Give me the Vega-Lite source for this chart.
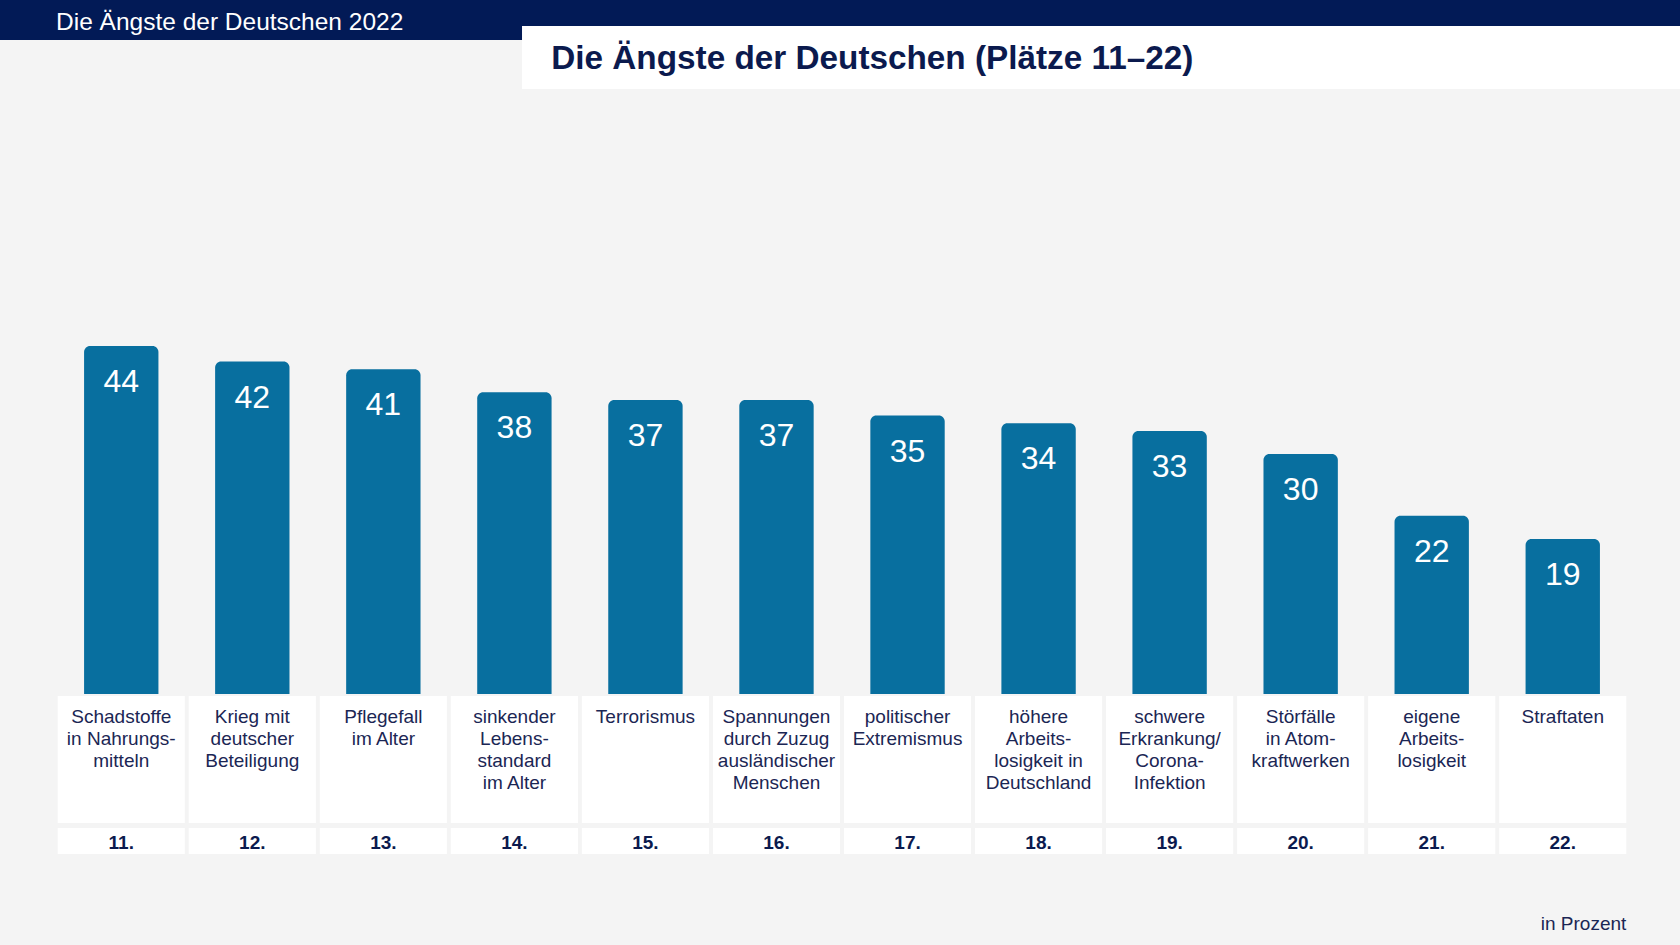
{
  "$schema": "https://vega.github.io/schema/vega-lite/v6.json",
  "width": 1680,
  "height": 945,
  "autosize": {"type": "fit", "contains": "padding"},
  "padding": {"top": 9, "left": 0, "right": 0, "bottom": 0},
  "background": "#021a56",
  "title": {
    "text": "Die Ängste der Deutschen 2022",
    "anchor": "start",
    "frame": "group",
    "dx": 56,
    "offset": -10,
    "color": "#ffffff",
    "font": "Liberation Sans",
    "fontSize": 24.5,
    "fontWeight": "normal"
  },
  "config": {
    "view": {"stroke": null, "fill": "#f4f4f4"},
    "axis": {"disable": true},
    "text": {"font": "Liberation Sans"}
  },
  "data": {
    "values": [
      {"rang": "11.", "angst": "Schadstoffe\nin Nahrungs-\nmitteln", "prozent": 44},
      {"rang": "12.", "angst": "Krieg mit\ndeutscher\nBeteiligung", "prozent": 42},
      {"rang": "13.", "angst": "Pflegefall\nim Alter", "prozent": 41},
      {"rang": "14.", "angst": "sinkender\nLebens-\nstandard\nim Alter", "prozent": 38},
      {"rang": "15.", "angst": "Terrorismus", "prozent": 37},
      {"rang": "16.", "angst": "Spannungen\ndurch Zuzug\nausländischer\nMenschen", "prozent": 37},
      {"rang": "17.", "angst": "politischer\nExtremismus", "prozent": 35},
      {"rang": "18.", "angst": "höhere\nArbeits-\nlosigkeit in\nDeutschland", "prozent": 34},
      {"rang": "19.", "angst": "schwere\nErkrankung/\nCorona-\nInfektion", "prozent": 33},
      {"rang": "20.", "angst": "Störfälle\nin Atom-\nkraftwerken", "prozent": 30},
      {"rang": "21.", "angst": "eigene\nArbeits-\nlosigkeit", "prozent": 22},
      {"rang": "22.", "angst": "Straftaten", "prozent": 19}
    ]
  },
  "layer": [
    {
      "transform": [{"filter": "datum.rang == '14.'"}],
      "mark": {"type": "rect", "color": "#ffffff"},
      "encoding": {
        "x": {"field": "rang", "type": "ordinal", "bandPosition": 0.56, "axis": null},
        "x2": {"value": "width"},
        "y": {"datum": 85.51, "type": "quantitative", "axis": null},
        "y2": {"datum": 77.33}
      }
    },
    {
      "transform": [{"filter": "datum.rang == '14.'"}],
      "mark": {"type": "text", "align": "left", "baseline": "alphabetic", "fontSize": 33.3, "fontWeight": "bold", "color": "#0b1a4e"},
      "encoding": {
        "x": {"field": "rang", "type": "ordinal", "bandPosition": 0.79, "axis": null},
        "y": {"datum": 79.92, "type": "quantitative", "axis": null},
        "text": {"value": "Die Ängste der Deutschen (Plätze 11–22)"}
      }
    },
    {
      "mark": {"type": "rect", "color": "#ffffff"},
      "encoding": {
        "x": {"field": "rang", "type": "ordinal", "axis": null},
        "y": {"datum": -1.36, "type": "quantitative", "axis": null},
        "y2": {"datum": -17.82}
      }
    },
    {
      "mark": {"type": "rect", "color": "#ffffff"},
      "encoding": {
        "x": {"field": "rang", "type": "ordinal", "axis": null},
        "y": {"datum": -18.47, "type": "quantitative", "axis": null},
        "y2": {"datum": -21.85}
      }
    },
    {
      "mark": {"type": "bar", "color": "#086f9f", "width": {"band": 0.585}, "cornerRadiusTopLeft": 6, "cornerRadiusTopRight": 6},
      "encoding": {
        "x": {
          "field": "rang",
          "type": "ordinal",
          "axis": null,
          "scale": {"paddingInner": 0.03, "paddingOuter": 0.425, "align": 0.518}
        },
        "y": {
          "field": "prozent",
          "type": "quantitative",
          "axis": null,
          "scale": {"domain": [-33.64, 83.68], "nice": false, "zero": false}
        },
        "y2": {"datum": -1.1}
      }
    },
    {
      "mark": {"type": "text", "color": "#ffffff", "fontSize": 32, "baseline": "middle", "dy": 36},
      "encoding": {
        "x": {"field": "rang", "type": "ordinal", "axis": null},
        "y": {"field": "prozent", "type": "quantitative", "axis": null},
        "text": {"field": "prozent", "type": "quantitative"}
      }
    },
    {
      "mark": {"type": "text", "color": "#1b2654", "fontSize": 19, "baseline": "top", "lineBreak": "\n", "lineHeight": 22},
      "encoding": {
        "x": {"field": "rang", "type": "ordinal", "axis": null},
        "y": {"datum": -2.92, "type": "quantitative", "axis": null},
        "text": {"field": "angst", "type": "nominal"}
      }
    },
    {
      "mark": {"type": "text", "color": "#0b1a4e", "fontSize": 19, "fontWeight": "bold", "baseline": "middle"},
      "encoding": {
        "x": {"field": "rang", "type": "ordinal", "axis": null},
        "y": {"datum": -20.42, "type": "quantitative", "axis": null},
        "text": {"field": "rang", "type": "nominal"}
      }
    },
    {
      "transform": [{"filter": "datum.rang == '22.'"}],
      "mark": {"type": "text", "align": "right", "baseline": "middle", "fontSize": 19, "color": "#1b2654"},
      "encoding": {
        "x": {"field": "rang", "type": "ordinal", "bandPosition": 1, "axis": null},
        "y": {"datum": -30.98, "type": "quantitative", "axis": null},
        "text": {"value": "in Prozent"}
      }
    }
  ]
}
